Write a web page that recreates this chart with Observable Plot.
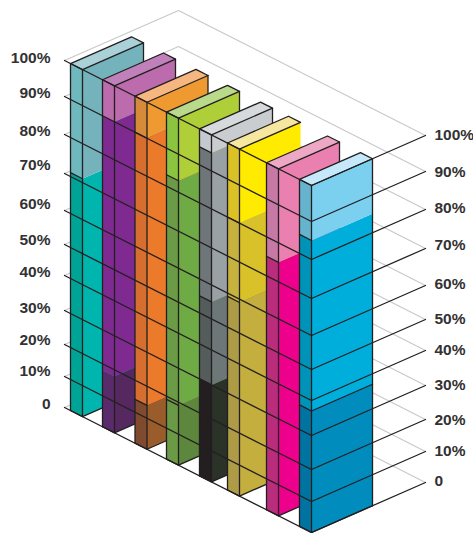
<!DOCTYPE html>
<html>
<head>
<meta charset="utf-8">
<script src="https://cdn.jsdelivr.net/npm/d3@7"></script>
<script src="https://cdn.jsdelivr.net/npm/@observablehq/plot@0.6"></script>
<style>
  html, body { margin: 0; padding: 0; background: #fff; }
  svg { display: block; }
</style>
</head>
<body>
<div id="chart"></div>
<script>
// Stacked percentage shares per bar, bottom band first.
const barNames = ["Teal", "Purple", "Orange", "Green", "Gray", "Yellow", "Pink", "Blue"];
const tealShares = [71, 29];
const purpleShares = [18, 72, 10];
const orangeShares = [14, 76, 10];
const greenShares = [19, 64, 17];
const grayShares = [30, 25, 40, 5];
const yellowShares = [59, 21, 20];
const pinkShares = [75, 25];
const blueShares = [37, 48, 15];
const shares = [tealShares, purpleShares, orangeShares, greenShares, grayShares, yellowShares, pinkShares, blueShares];

const levels = [0, 10, 20, 30, 40, 50, 60, 70, 80, 90, 100];
const levelLabels = ["0", "10%", "20%", "30%", "40%", "50%", "60%", "70%", "80%", "90%", "100%"];

// Band colours per bar: wide face, narrow face; one top colour per bar.
const wideColors = [
  ["#00b5ad", "#74b3bc"],
  ["#55295f", "#7f2a90", "#bc6bac"],
  ["#9a5c2b", "#ec7a2b", "#ee9a30"],
  ["#5d873c", "#6fab45", "#aecf37"],
  ["#2b3328", "#6e7778", "#99a1a4", "#cacdd0"],
  ["#c4ae3e", "#d9c229", "#ffeb00"],
  ["#ec008c", "#ea80b0"],
  ["#008dbd", "#00aedb", "#7ad0ee"]
];
const narrowColors = [
  ["#00a497", "#6fb8be"],
  ["#5a2b6b", "#7f2a90", "#bc6bac"],
  ["#7f4a2e", "#d56e2f", "#d58b3a"],
  ["#6a9a45", "#6b9b46", "#8bc540"],
  ["#231f20", "#545c5c", "#6f767a", "#c4c8d0"],
  ["#ad9b45", "#c6b23c", "#dac126"],
  ["#b92d7c", "#c679a4"],
  ["#0073a0", "#0093b8", "#66b3ce"]
];
const topColors = ["#aad0d8", "#c080b9", "#f5b77f", "#b8da8a", "#d6dadd", "#f5e6a0", "#eca8c4", "#c5e9fa"];

// Oblique projection of the floor and the height axis.
const originX = 64, originY = 407;
const floorAcross = 247, floorDepth = 114;
const acrossSlope = 125 / 247, depthSlope = 50 / 114;
const lift = d3.scaleLinear(levels, [0, 31, 63, 97, 132, 163, 197, 234, 273, 311, 347]);
const barFront = d3.scaleOrdinal(barNames, [18, 50, 82.5, 114, 147, 175, 214, 247]);
const barThickness = 12, barDepth = 61;

const project = (across, depth, level) => ({
  x: originX + across + depth,
  y: originY + across * acrossSlope - depth * depthSlope - lift(level)
});

const ink = "#231f20";
const ruleGray = "#c7c8cc";
const textInk = "#333132";
const inkWidth = 1.3;

// Polygons and edges are pushed as point lists; a polyline mark keeps them in order.
const path = (id, pts, extra = {}) => pts.map((p) => ({id, ...p, ...extra}));

function barMarks(name, i) {
  const front = barFront(name);
  const left = front - barThickness;
  const faces = [];
  const edges = [];
  let bottom = 0;
  shares[i].forEach((share, band) => {
    const top = bottom + share;
    faces.push(...path(`n${band}`, [
      project(left, 0, bottom), project(front, 0, bottom),
      project(front, 0, top), project(left, 0, top)
    ], {fill: narrowColors[i][band]}));
    faces.push(...path(`w${band}`, [
      project(front, 0, bottom), project(front, barDepth, bottom),
      project(front, barDepth, top), project(front, 0, top)
    ], {fill: wideColors[i][band]}));
    if (top < 100 && name !== "Purple") {
      edges.push(...path(`b${band}`, [project(left, 0, top), project(front, 0, top)]));
    }
    if (name === "Blue" && band === 0) {
      edges.push(...path("rule", [project(front, 0, top), project(front, barDepth, top)]));
    }
    bottom = top;
  });
  faces.push(...path("top", [
    project(left, 0, 100), project(front, 0, 100),
    project(front, barDepth, 100), project(left, barDepth, 100)
  ], {fill: topColors[i]}));
  edges.push(...path("base", [project(left, 0, 0), project(front, 0, 0), project(front, barDepth, 0)]));
  edges.push(...path("leftEdge", [project(left, 0, 0), project(left, 0, 100)]));
  edges.push(...path("corner", [project(front, 0, 0), project(front, 0, 100)]));
  if (name !== "Yellow") {
    edges.push(...path("rearEdge", [project(front, barDepth, 0), project(front, barDepth, 100)]));
  }
  edges.push(...path("rim", [
    project(front, barDepth, 100), project(front, 0, 100), project(left, 0, 100),
    project(left, barDepth, 100), project(front, barDepth, 100)
  ]));
  return [
    Plot.line(faces, {x: "x", y: "y", z: "id", fill: "fill", stroke: "none", curve: "linear"}),
    Plot.line(edges, {x: "x", y: "y", z: "id", stroke: ink, strokeWidth: inkWidth, strokeLinejoin: "round", curve: "linear"})
  ];
}

const backRules = levels.flatMap((lv) => path(`l${lv}`, [
  project(0, 0, lv), project(0, floorDepth, lv), project(floorAcross, floorDepth, lv)
]));
const frontRules = levels.flatMap((lv) => path(`l${lv}`, [
  project(0, 0, lv), project(floorAcross, 0, lv), project(floorAcross, floorDepth, lv)
]));

// Hand-set label offsets, bottom level first.
const leftLabelShift = [-3, -5, -4, -2, -3, -4, -6, -8, -3, -3, -2];
const rightLabelShift = [-1, 0, 1, 0, 0, 0, -1, -3, -1, 1, 0];
const leftLabels = levels.map((lv, i) => {
  const p = project(0, 0, lv);
  return {x: p.x - 14, y: p.y + leftLabelShift[i], label: levelLabels[i]};
});
const rightLabels = levels.map((lv, i) => {
  const p = project(floorAcross, floorDepth, lv);
  return {x: p.x + 9, y: p.y + rightLabelShift[i], label: levelLabels[i]};
});
const labelStyle = {
  x: "x", y: "y", text: "label", fill: textInk,
  fontFamily: "Liberation Sans", fontWeight: "bold", fontSize: 15.5
};

const chart = Plot.plot({
  width: 473,
  height: 533,
  margin: 0,
  x: {domain: [0, 473], range: [0, 473], axis: null},
  y: {domain: [0, 533], range: [0, 533], axis: null},
  color: {type: "identity"},
  style: {background: "#fff"},
  marks: [
    Plot.line(backRules, {x: "x", y: "y", z: "id", stroke: ruleGray, strokeWidth: 1.1, curve: "linear"}),
    ...barNames.flatMap(barMarks),
    Plot.line(frontRules, {x: "x", y: "y", z: "id", stroke: ink, strokeWidth: inkWidth, curve: "linear"}),
    Plot.text(leftLabels, {...labelStyle, textAnchor: "end"}),
    Plot.text(rightLabels, {...labelStyle, textAnchor: "start"})
  ]
});
document.getElementById("chart").appendChild(chart);
</script>
</body>
</html>
